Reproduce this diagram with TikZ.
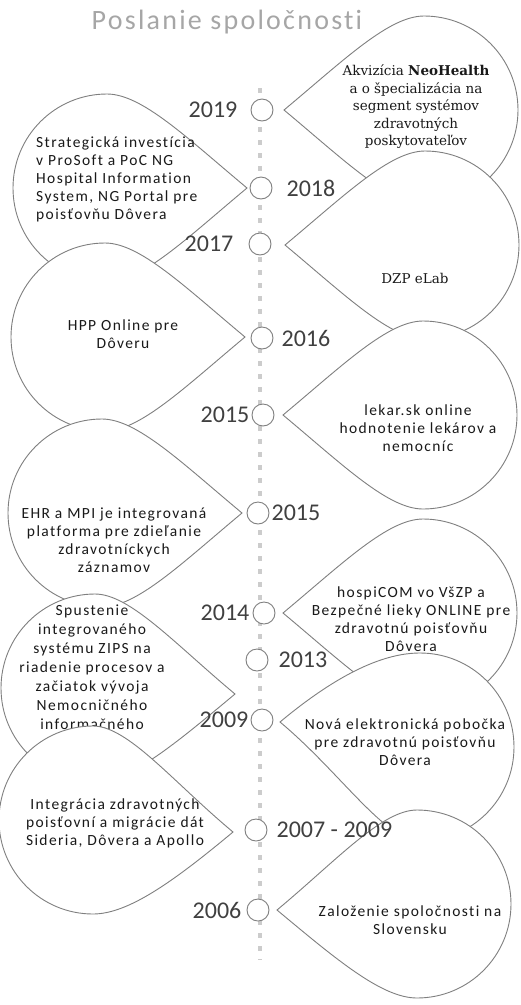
\documentclass[tikz,border=0pt]{standalone}
\usepackage{fontspec}
\setmainfont{Carlito}[Ligatures=NoCommon]
\newfontfamily\dropserif{DejaVu Serif}
\usetikzlibrary{positioning}
\definecolor{dropline}{HTML}{7F7F7F}
\definecolor{titlegray}{HTML}{A6A6A6}
\tikzstyle{drop} = [draw=dropline, fill=white, line width=0.9pt]
\tikzstyle{droptext} = [align=center, text=black!90, inner sep=0pt, font=\fontsize{15.5}{18}\selectfont\addfontfeatures{LetterSpace=9}]
\tikzstyle{seriftext} = [align=center, text=black!90, inner sep=0pt, font=\dropserif\fontsize{13.5}{17.5}\selectfont]
\tikzstyle{marker} = [circle, draw=dropline, fill=white, minimum size=22pt, inner sep=0pt, line width=0.9pt]
\tikzstyle{yearlabel} = [text=black!75, inner sep=0pt, font=\fontsize{24}{28}\selectfont]
\tikzstyle{axis} = [draw=black!20, line width=4pt, dash pattern=on 5pt off 8pt]

% teardrop, tip on the left (#1,#2), centre raised by #3
\newcommand{\dropright}[3]{%
  \draw[drop] (#1,#2) .. controls +(60,50) and +(-35,0) .. ({#1+140},{#2+#3+94})
    arc[start angle=90, end angle=-90, radius=94]
    .. controls +(-35,0) and ({#1+60},{#2-50}) .. cycle;}
% teardrop, tip on the right (#1,#2), centre raised by #3
\newcommand{\dropleft}[3]{%
  \draw[drop] (#1,#2) .. controls +(-60,50) and +(35,0) .. ({#1-140},{#2+#3+94})
    arc[start angle=90, end angle=270, radius=94]
    .. controls +(35,0) and ({#1-60},{#2-50}) .. cycle;}

\begin{document}
\begin{tikzpicture}[x=1pt, y=1pt]
        \useasboundingbox (0,0) rectangle (521,-1005);

        \node (title) [text=titlegray, font=\fontsize{28}{32}\selectfont\addfontfeatures{LetterSpace=8}] at (227,-22) {Poslanie spoločnosti};

        \draw[axis] (260,-88) -- (260,-960);

        % drops, from top to bottom
        \dropright{284}{-110}{0}
        \node (t2019) [seriftext] at (416,-107) {Akvizícia \textbf{NeoHealth}\\ a o špecializácia na\\ segment systémov\\ zdravotných\\ poskytovateľov};

        \dropleft{247}{-188}{0}
        \node (t2018) [droptext, align=left, anchor=west] at (36,-179) {Strategická investícia\\ v ProSoft a PoC NG\\ Hospital Information\\ System, NG Portal pre\\ poisťovňu Dôvera};

        \dropright{285}{-245}{0}
        \node (t2017) [seriftext] at (415,-278) {DZP eLab};

        \dropleft{245}{-337}{0}
        \node (t2016) [droptext] at (123,-334) {HPP Online pre\\ Dôveru};

        \dropright{283}{-415}{0}
        \node (t2015a) [droptext] at (418,-428) {lekar.sk online\\ hodnotenie lekárov a\\ nemocníc};

        \dropleft{242}{-513}{0}
        \node (t2015b) [droptext] at (114,-540) {EHR a MPI je integrovaná\\ platforma pre zdieľanie\\ zdravotníckych\\ záznamov};

        \dropright{283}{-613}{0}
        \node (t2014) [droptext] at (411,-619) {hospiCOM vo VšZP a\\ Bezpečné lieky ONLINE pre\\ zdravotnú poisťovňu\\ Dôvera};

        \dropleft{235}{-694}{6}
        \node (t2013) [droptext, anchor=north, font=\fontsize{15.5}{19}\selectfont\addfontfeatures{LetterSpace=9}] at (92,-605) {Spustenie\\ integrovaného\\ systému ZIPS na\\ riadenie procesov a\\ začiatok vývoja\\ Nemocničného\\ informačného};

        \dropright{280}{-722}{-25}
        \node (t2009) [droptext] at (405,-742) {Nová elektronická pobočka\\ pre zdravotnú poisťovňu\\ Dôvera};

        \dropleft{233}{-832}{12}
        \node (t2007) [droptext] at (115,-823) {Integrácia zdravotných\\ poisťovní a migrácie dát\\ Sideria, Dôvera a Apollo};

        \dropright{277}{-910}{6}
        \node (t2006) [droptext] at (410,-920) {Založenie spoločnosti na\\ Slovensku};

        % markers and years
        \node (m2019) [marker] at (262,-110) {};
        \node (m2018) [marker] at (261,-188) {};
        \node (m2017) [marker] at (260,-244) {};
        \node (m2016) [marker] at (262,-338) {};
        \node (m2015a) [marker] at (263,-415) {};
        \node (m2015b) [marker] at (258,-513) {};
        \node (m2014) [marker] at (264,-613) {};
        \node (m2013) [marker] at (257,-660) {};
        \node (m2009) [marker] at (262,-720) {};
        \node (m2007) [marker] at (256,-830) {};
        \node (m2006) [marker] at (258,-910) {};

        \node (y2019) [yearlabel, left=13pt of m2019] {2019};
        \node (y2018) [yearlabel, right=14pt of m2018] {2018};
        \node (y2017) [yearlabel, left=15pt of m2017] {2017};
        \node (y2016) [yearlabel, right=8pt of m2016] {2016};
        \node (y2015a) [yearlabel, left=2pt of m2015a] {2015};
        \node (y2015b) [yearlabel, right=2pt of m2015b] {2015};
        \node (y2014) [yearlabel, left=3pt of m2014] {2014};
        \node (y2013) [yearlabel, right=10pt of m2013] {2013};
        \node (y2009) [yearlabel, left=2pt of m2009] {2009};
        \node (y2007) [yearlabel, right=9pt of m2007] {2007 - 2009};
        \node (y2006) [yearlabel, left=5pt of m2006] {2006};

    \end{tikzpicture}
\end{document}
